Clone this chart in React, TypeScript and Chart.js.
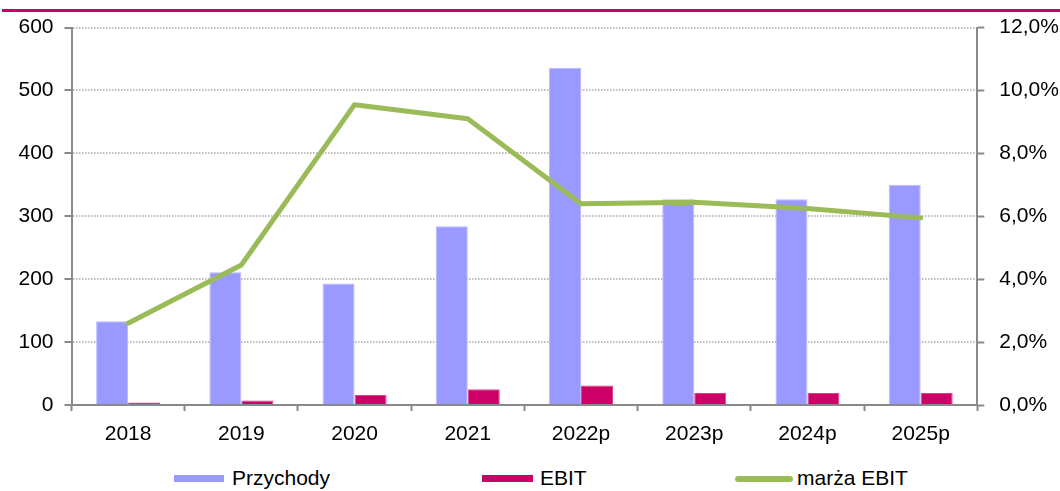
import React, { useEffect, useRef } from "react";
import { Chart, registerables } from "chart.js";

Chart.register(...registerables);

const categories = ["2018", "2019", "2020", "2021", "2022p", "2023p", "2024p", "2025p"];
const przychody = [133, 211, 193, 284, 536, 327, 327, 350];
const ebit = [4, 7, 16, 25, 31, 19, 19, 19];
const marzaEbit = [2.6, 4.45, 9.55, 9.1, 6.4, 6.45, 6.25, 5.95];

const FONT = "'Liberation Sans', Arial, sans-serif";
const AXIS = "#8a8a8a";

export default function App() {
  const ref = useRef<HTMLCanvasElement | null>(null);

  useEffect(() => {
    if (!ref.current) return;
    const chart = new Chart(ref.current, {
      type: "bar",
      data: {
        labels: categories,
        datasets: [
          {
            type: "line",
            label: "marża EBIT",
            data: marzaEbit,
            yAxisID: "y1",
            borderColor: "#9BBB59",
            backgroundColor: "#9BBB59",
            borderWidth: 5,
            pointRadius: 0,
            tension: 0,
            borderCapStyle: "round",
            borderJoinStyle: "round",
            order: 0,
          },
          {
            type: "bar",
            label: "Przychody",
            data: przychody,
            yAxisID: "y",
            backgroundColor: "#9999FF",
            borderColor: "#B8B8FF",
            borderWidth: 1,
            categoryPercentage: 0.565,
            barPercentage: 1,
            order: 1,
          },
          {
            type: "bar",
            label: "EBIT",
            data: ebit,
            yAxisID: "y",
            backgroundColor: "#CC0066",
            borderColor: "#E0408A",
            borderWidth: 1,
            categoryPercentage: 0.565,
            barPercentage: 1,
            order: 1,
          },
        ],
      },
      options: {
        responsive: false,
        animation: false,
        layout: { padding: { top: 25, left: 0, right: 0, bottom: 0 } },
        plugins: {
          legend: { display: false },
          tooltip: { enabled: false },
          title: { display: false },
        },
        scales: {
          x: {
            offset: true,
            afterFit: (s: any) => {
              s.height = 60;
            },
            grid: {
              offset: true,
              drawOnChartArea: false,
              drawTicks: true,
              tickLength: 6,
              tickColor: AXIS,
              tickWidth: 2,
            },
            border: { display: true, color: AXIS, width: 2 },
            ticks: {
              color: "#000",
              font: { family: FONT, size: 21 },
              padding: 11,
              maxRotation: 0,
            },
          },
          y: {
            position: "left",
            min: 0,
            max: 600,
            afterFit: (s: any) => {
              s.width = 71.5;
            },
            ticks: {
              stepSize: 100,
              color: "#000",
              font: { family: FONT, size: 21 },
              padding: 11,
            },
            grid: {
              color: (c: any) => (c.tick && c.tick.value === 0 ? "rgba(0,0,0,0)" : "#bdbdbd"),
              lineWidth: 2,
              tickLength: 7,
              tickColor: AXIS,
              tickWidth: 2,
            },
            border: { display: true, color: AXIS, width: 2, dash: [1.5, 1.5] },
          },
          y1: {
            position: "right",
            min: 0,
            max: 12,
            afterFit: (s: any) => {
              s.width = 82.7;
            },
            ticks: {
              stepSize: 2,
              color: "#000",
              font: { family: FONT, size: 21 },
              padding: 15,
              callback: (v: any) => Number(v).toFixed(1).replace(".", ",") + "%",
            },
            grid: {
              drawOnChartArea: false,
              tickLength: 7,
              tickColor: AXIS,
              tickWidth: 2,
            },
            border: { display: true, color: AXIS, width: 2 },
          },
        },
      },
    });
    return () => chart.destroy();
  }, []);

  const legendText: React.CSSProperties = {
    position: "absolute",
    top: 465.7,
    fontFamily: FONT,
    fontSize: 21,
    lineHeight: "24px",
    color: "#000",
    whiteSpace: "nowrap",
  };

  return (
    <div
      style={{
        position: "absolute",
        left: 0,
        top: 0,
        width: 1060,
        height: 491,
        overflow: "hidden",
        background: "#fff",
      }}
    >
      <div style={{ position: "absolute", left: 2, right: 0, top: 9, height: 3, background: "#CC0066" }} />
      <canvas ref={ref} width={1060} height={465} style={{ position: "absolute", left: 0, top: 0 }} />
      <div style={{ position: "absolute", left: 174, top: 475, width: 50, height: 7, background: "#9999FF" }} />
      <div style={{ ...legendText, left: 232 }}>Przychody</div>
      <div style={{ position: "absolute", left: 482, top: 475, width: 51, height: 7, background: "#CC0066" }} />
      <div style={{ ...legendText, left: 540 }}>EBIT</div>
      <div
        style={{
          position: "absolute",
          left: 735,
          top: 476,
          width: 58,
          height: 6,
          borderRadius: 3,
          background: "#9BBB59",
        }}
      />
      <div style={{ ...legendText, left: 797 }}>marża EBIT</div>
    </div>
  );
}
